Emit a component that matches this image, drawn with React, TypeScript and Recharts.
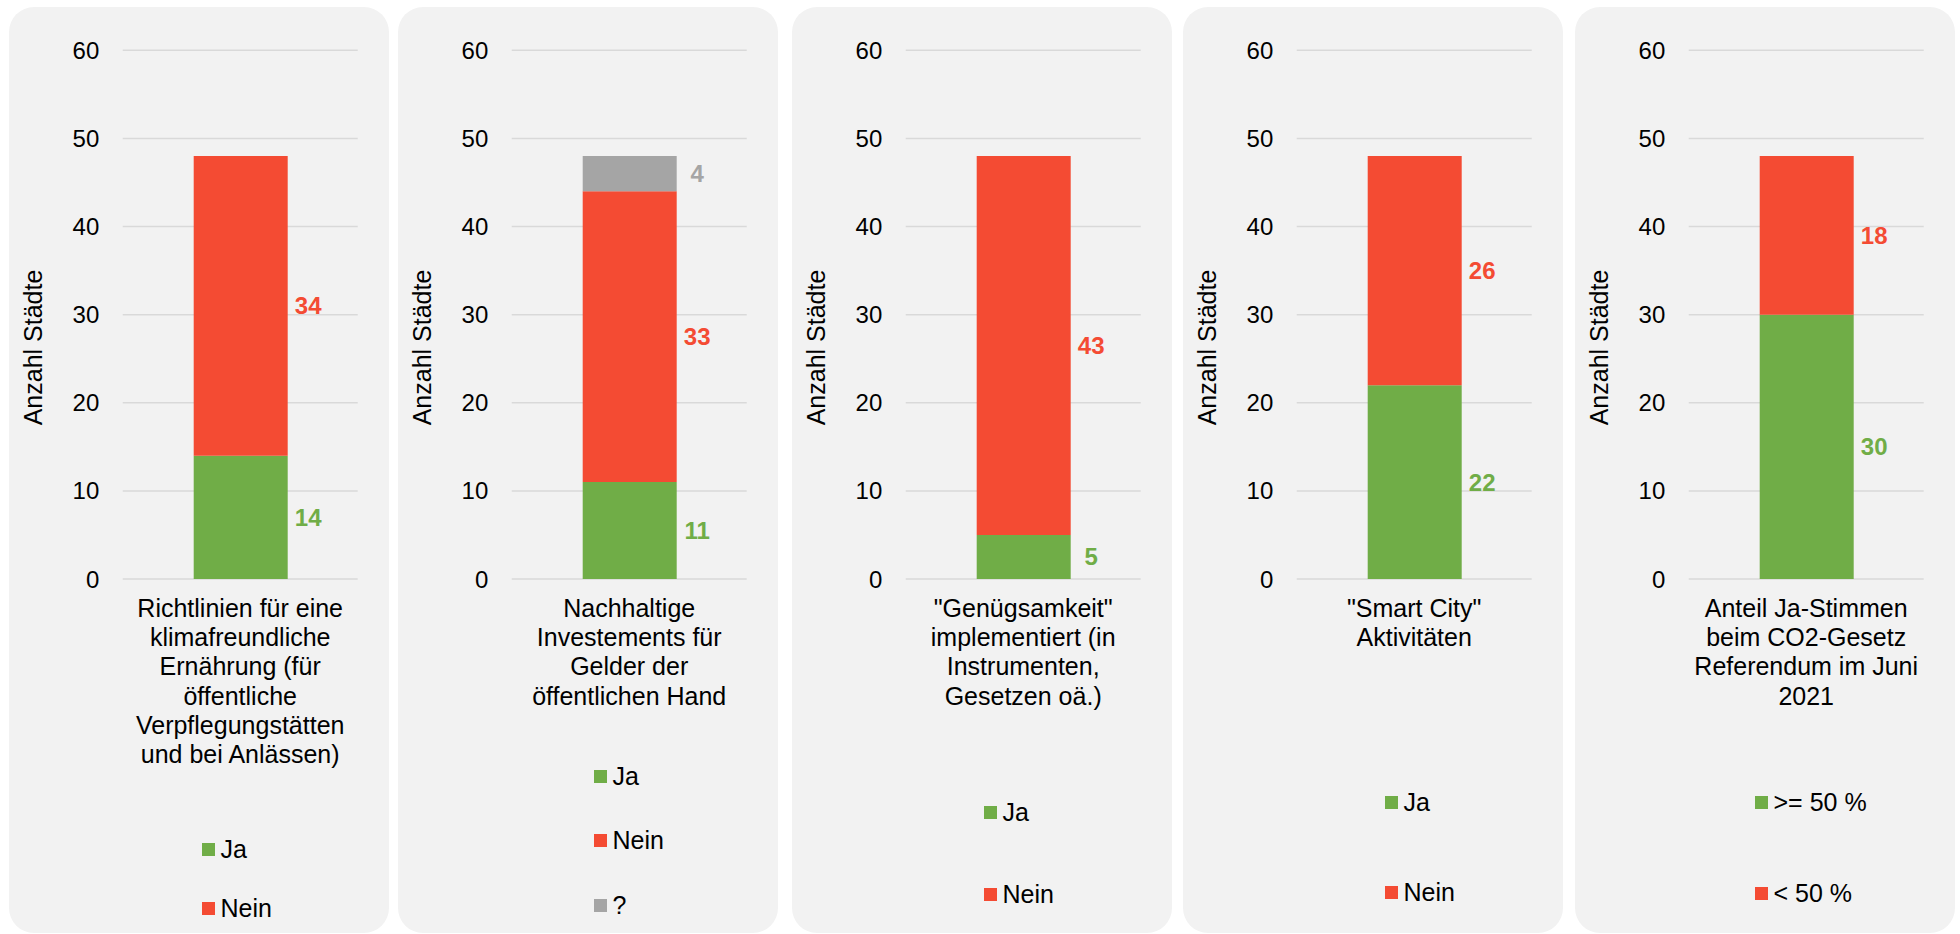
import React from "react";
import { BarChart, Bar, XAxis, YAxis, CartesianGrid, Legend, LabelList } from "recharts";

// one panel per question
const categories = [
  "Richtlinien für eine\nklimafreundliche\nErnährung (für\nöffentliche\nVerpflegungstätten\nund bei Anlässen)",
  "Nachhaltige\nInvestements für\nGelder der\nöffentlichen Hand",
  "\"Genügsamkeit\"\nimplementiert (in\nInstrumenten,\nGesetzen oä.)",
  "\"Smart City\"\nAktivitäten",
  "Anteil Ja-Stimmen\nbeim CO2-Gesetz\nReferendum im Juni\n2021",
];
const yesValues = [14, 11, 5, 22, 30];
const noValues = [34, 33, 43, 26, 18];
const unknownValues: (number | null)[] = [null, 4, null, null, null];
const yesNames = ["Ja", "Ja", "Ja", "Ja", ">= 50 %"];
const noNames = ["Nein", "Nein", "Nein", "Nein", "< 50 %"];
const unknownName = "?";
const yTicks = [0, 10, 20, 30, 40, 50, 60];
const axisTitle = "Anzahl Städte";

// layout
const PANEL_LEFTS = [9, 398, 792, 1183, 1575];
const PANEL_W = 380;
const PANEL_H = 926;
const LEGEND_LEFTS = [193, 196, 192, 202, 180];
const LEGEND_CENTERS = [
  [842, 901],
  [769, 833, 898],
  [805, 887],
  [795, 885],
  [795, 886],
];
const SERIES_ORDER = ["yes", "no", "unknown"];

const GREEN = "#70ad47";
const RED = "#f44b33";
const GRAY = "#a5a5a5";
const FONT = "'Liberation Sans', Arial, sans-serif";

const makeLabel = (color: string) => (props: any) => {
  const vb = props.viewBox ?? props;
  const { x, y, width, height } = vb;
  return (
    <text
      x={x + width + 20.5}
      y={y + height / 2}
      textAnchor="middle"
      dominantBaseline="central"
      fontSize={24}
      fontWeight="bold"
      fill={color}
    >
      {props.value}
    </text>
  );
};

const CategoryTick = (props: any) => {
  const { x, y, payload } = props;
  const lines = String(payload.value).split("\n");
  return (
    <text x={x} y={y + 37.7} textAnchor="middle" fontSize={25} fill="#000">
      {lines.map((line, i) => (
        <tspan key={i} x={x} dy={i === 0 ? 0 : 29.3}>
          {line}
        </tspan>
      ))}
    </text>
  );
};

const AxisTitle = () => (
  <text
    x={33}
    y={340.5}
    transform="rotate(-90, 33, 340.5)"
    textAnchor="middle"
    fontSize={25}
    fill="#000"
  >
    {axisTitle}
  </text>
);

function Panel({ index }: { index: number }) {
  const data = [
    {
      name: categories[index],
      yes: yesValues[index],
      no: noValues[index],
      unknown: unknownValues[index],
    },
  ];
  const hasUnknown = unknownValues[index] != null;
  const legendLeft = LEGEND_LEFTS[index];
  const centers = LEGEND_CENTERS[index];

  const renderLegend = ({ payload }: any) => {
    const items = [...(payload || [])].sort(
      (a: any, b: any) => SERIES_ORDER.indexOf(a.dataKey) - SERIES_ORDER.indexOf(b.dataKey)
    );
    return (
      <div style={{ position: "relative" }}>
        {items.map((entry: any, i: number) => (
          <div key={i}>
            <div
              style={{
                position: "absolute",
                left: legendLeft,
                top: centers[i] - 6.5,
                width: 13,
                height: 13,
                background: entry.color,
              }}
            />
            <div
              style={{
                position: "absolute",
                left: legendLeft + 18.5,
                top: centers[i] - 15,
                lineHeight: "30px",
                fontSize: 25,
                color: "#000",
                whiteSpace: "nowrap",
              }}
            >
              {entry.value}
            </div>
          </div>
        ))}
      </div>
    );
  };

  return (
    <div
      style={{
        position: "absolute",
        left: PANEL_LEFTS[index],
        top: 7,
        width: PANEL_W,
        height: PANEL_H,
        background: "#f2f2f2",
        borderRadius: 25,
      }}
    >
      <BarChart
        width={PANEL_W}
        height={PANEL_H}
        data={data}
        margin={{ top: 43.3, right: 31.3, bottom: 294, left: 0 }}
      >
        <CartesianGrid vertical={false} stroke="#d9d9d9" strokeWidth={1.5} />
        <XAxis
          dataKey="name"
          height={60}
          axisLine={false}
          tickLine={false}
          tickSize={0}
          tickMargin={0}
          tick={<CategoryTick />}
        />
        <YAxis
          type="number"
          domain={[0, 60]}
          ticks={yTicks}
          width={113.7}
          axisLine={false}
          tickLine={false}
          tickSize={0}
          tickMargin={23.4}
          tick={{ fontSize: 24, fill: "#000" }}
          label={<AxisTitle />}
        />
        <Legend
          layout="vertical"
          align="center"
          verticalAlign="middle"
          wrapperStyle={{ left: 0, top: 0, width: 0, height: 0 }}
          content={renderLegend}
        />
        <Bar dataKey="yes" name={yesNames[index]} stackId="s" fill={GREEN} barSize={94} isAnimationActive={false}>
          <LabelList dataKey="yes" content={makeLabel(GREEN)} />
        </Bar>
        <Bar dataKey="no" name={noNames[index]} stackId="s" fill={RED} barSize={94} isAnimationActive={false}>
          <LabelList dataKey="no" content={makeLabel(RED)} />
        </Bar>
        {hasUnknown && (
          <Bar dataKey="unknown" name={unknownName} stackId="s" fill={GRAY} barSize={94} isAnimationActive={false}>
            <LabelList dataKey="unknown" content={makeLabel(GRAY)} />
          </Bar>
        )}
      </BarChart>
    </div>
  );
}

export default function App() {
  return (
    <div
      style={{
        position: "absolute",
        left: 0,
        top: 0,
        width: 1960,
        height: 934,
        background: "#ffffff",
        fontFamily: FONT,
        overflow: "hidden",
      }}
    >
      {categories.map((_, i) => (
        <Panel key={i} index={i} />
      ))}
    </div>
  );
}
